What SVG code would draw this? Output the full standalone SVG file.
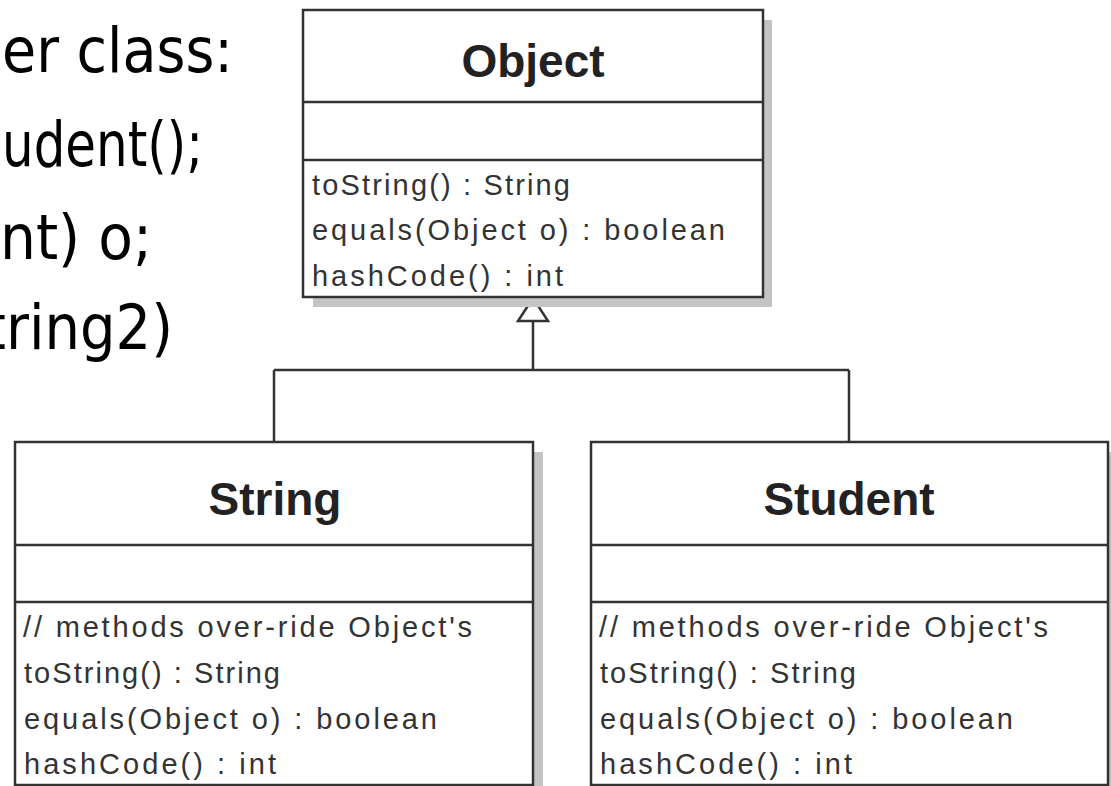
<svg xmlns="http://www.w3.org/2000/svg" width="1111" height="786" viewBox="0 0 1111 786">
<style>
.box{fill:#fff;stroke:#333;stroke-width:2.5}
.shadow{fill:#c4c4c4}
.div{stroke:#333;stroke-width:2.5}
.title{font-family:"Liberation Sans",Arial,sans-serif;font-weight:bold;font-size:46px;fill:#222;text-anchor:middle}
.m{font-family:"Liberation Sans",Arial,sans-serif;font-size:29px;fill:#333}
.slide{font-family:"DejaVu Sans","Noto Sans",sans-serif;font-size:63px;fill:#000;text-anchor:end}
.conn{fill:none;stroke:#333;stroke-width:2.5}
</style>
<rect width="1111" height="786" fill="#fff"/>
<g id="slide-text">
<text class="slide" x="233" y="72" textLength="231" lengthAdjust="spacingAndGlyphs">er class:</text>
<text class="slide" x="203" y="166" textLength="201" lengthAdjust="spacingAndGlyphs">udent();</text>
<text class="slide" x="152" y="259" textLength="152" lengthAdjust="spacingAndGlyphs">nt) o;</text>
<text class="slide" x="173" y="349" textLength="189" lengthAdjust="spacingAndGlyphs">tring2)</text>
</g>
<g id="connectors">
<path class="conn" d="M533,321 V370 M274,370 H849 M274,370 V442 M849,370 V442"/>
<polygon class="conn" points="533,298 518,321 548,321" style="fill:#fff"/>
</g>
<g id="node-object">
<rect class="shadow" x="313" y="20" width="459" height="287"/>
<rect class="box" x="303" y="10" width="460" height="287"/>
<line class="div" x1="303" y1="102" x2="763" y2="102"/>
<line class="div" x1="303" y1="160" x2="763" y2="160"/>
<text class="title" x="533" y="77">Object</text>
<text class="m" x="312" y="195" textLength="258" lengthAdjust="spacing">toString() : String</text>
<text class="m" x="312" y="240" textLength="413" lengthAdjust="spacing">equals(Object o) : boolean</text>
<text class="m" x="312" y="286" textLength="251" lengthAdjust="spacing">hashCode() : int</text>
</g>
<g id="node-string">
<rect class="shadow" x="523" y="452" width="20" height="340"/>
<rect class="box" x="15" y="442" width="518" height="343"/>
<line class="div" x1="15" y1="545" x2="533" y2="545"/>
<line class="div" x1="15" y1="602" x2="533" y2="602"/>
<text class="title" x="275" y="515">String</text>
<text class="m" x="23" y="637" textLength="449" lengthAdjust="spacing">// methods over-ride Object's</text>
<text class="m" x="24" y="683" textLength="256" lengthAdjust="spacing">toString() : String</text>
<text class="m" x="24" y="729" textLength="413" lengthAdjust="spacing">equals(Object o) : boolean</text>
<text class="m" x="24" y="774" textLength="252" lengthAdjust="spacing">hashCode() : int</text>
</g>
<g id="node-student">
<rect class="shadow" x="1100" y="452" width="20" height="340"/>
<rect class="box" x="591" y="442" width="517" height="343"/>
<line class="div" x1="591" y1="545" x2="1108" y2="545"/>
<line class="div" x1="591" y1="602" x2="1108" y2="602"/>
<text class="title" x="849" y="515">Student</text>
<text class="m" x="599" y="637" textLength="449" lengthAdjust="spacing">// methods over-ride Object's</text>
<text class="m" x="600" y="683" textLength="256" lengthAdjust="spacing">toString() : String</text>
<text class="m" x="600" y="729" textLength="413" lengthAdjust="spacing">equals(Object o) : boolean</text>
<text class="m" x="600" y="774" textLength="252" lengthAdjust="spacing">hashCode() : int</text>
</g>
</svg>
